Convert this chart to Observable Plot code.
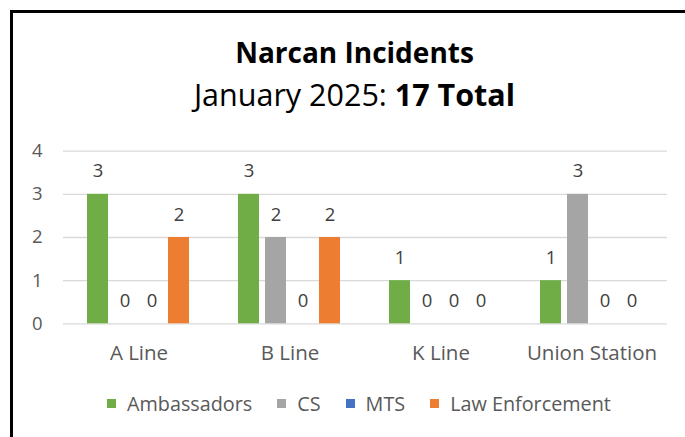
<!DOCTYPE html>
<html>
<head>
<meta charset="utf-8">
<script src="https://cdn.jsdelivr.net/npm/d3@7"></script>
<script src="https://cdn.jsdelivr.net/npm/@observablehq/plot@0.6"></script>
<style>
  html, body { margin: 0; padding: 0; background: #fff; width: 685px; height: 437px; overflow: hidden; }
  body { position: relative; font-family: "Open Sans", "Noto Sans", sans-serif; }
  #frame { position: absolute; left: 10px; top: 10px; width: 700px; height: 450px;
           border-left: 3px solid #000; border-top: 3px solid #000; box-sizing: border-box; }
  .ttl { position: absolute; left: 0; width: 709px; text-align: center; color: #000; white-space: nowrap; }
  #title { top: 38px; font-size: 28px; line-height: 28px; font-weight: 700; }
  #subtitle { top: 79px; font-size: 30.5px; line-height: 30.5px; font-weight: 400; }
  #chart { position: absolute; left: 0; top: 130px; }
  #chart [aria-label^="fx-axis"] { font-size: 20.5px; }
  #legend { position: absolute; left: 107px; top: 389px; }
  #legend .lg-swatches { margin: 0 !important; min-height: 28px !important; font-family: "Open Sans", "Noto Sans", sans-serif !important;
                         font-size: 19.8px !important; color: #595959 !important; display: flex; align-items: center; }
  #legend .lg-swatch { margin-right: 25px !important; display: inline-flex; align-items: center; }
  #legend .lg-swatch > svg { margin-right: 11px !important; }
</style>
</head>
<body>
<div id="frame"></div>
<div id="title" class="ttl">Narcan Incidents</div>
<div id="subtitle" class="ttl">January 2025: <b>17 Total</b></div>
<div id="chart"></div>
<div id="legend"></div>
<script>
// ---- data ----
const categories = ["A Line", "B Line", "K Line", "Union Station"];
const seriesNames = ["Ambassadors", "CS", "MTS", "Law Enforcement"];
const ambassadors = [3, 3, 1, 1];
const cs = [0, 2, 0, 3];
const mts = [0, 0, 0, 0];
const lawEnforcement = [2, 2, 0, 0];
const seriesColors = ["#70AD47", "#A5A5A5", "#4472C4", "#ED7D31"];
const yTicks = [0, 1, 2, 3, 4];

const seriesValues = [ambassadors, cs, mts, lawEnforcement];
const rows = categories.flatMap((c, i) =>
  seriesNames.map((s, j) => ({category: c, series: s, value: seriesValues[j][i]}))
);

const FONT = '"Open Sans", "Noto Sans", sans-serif';

const chart = Plot.plot({
  width: 685,
  height: 245,
  marginLeft: 62,
  marginRight: 17,
  marginTop: 20.7,
  marginBottom: 51.7,
  style: {fontFamily: FONT, fontSize: "18.5px", color: "#595959", background: "transparent", overflow: "visible"},
  fx: {domain: categories, padding: 0, label: null, axis: "bottom", tickSize: 0, tickPadding: 22},
  x: {domain: seriesNames, axis: null, paddingInner: 0.21, paddingOuter: 0.89},
  y: {domain: [0, 4], ticks: yTicks, tickFormat: d => String(d), tickSize: 0, tickPadding: 21, label: null},
  color: {domain: seriesNames, range: seriesColors},
  marks: [
    Plot.ruleY(yTicks, {stroke: "#D9D9D9", strokeWidth: 1.3}),
    Plot.barY(rows, {fx: "category", x: "series", y: "value", fill: "series"}),
    Plot.text(rows, {fx: "category", x: "series", y: "value", text: d => String(d.value),
      lineAnchor: "bottom", dy: -17, fill: "#404040", fontSize: 18.5})
  ]
});
document.getElementById("chart").appendChild(chart);

const legend = Plot.legend({
  color: {domain: seriesNames, range: seriesColors},
  legend: "swatches",
  swatchSize: 9,
  className: "lg"
});
document.getElementById("legend").appendChild(legend);
</script>
</body>
</html>
